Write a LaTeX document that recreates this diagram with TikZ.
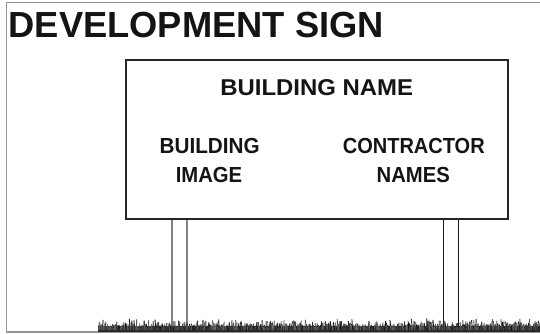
\documentclass[tikz,border=0pt]{standalone}
\usepackage{fontspec}
\setmainfont{Liberation Sans}
\usepackage{graphicx}
\begin{document}
\begin{tikzpicture}[x=1pt,y=-1pt,
  frameline/.style={draw=black!42,line width=1.3pt},
  signbox/.style={draw=black!85,line width=1.3pt,minimum width=382pt,minimum height=159pt,inner sep=0pt},
  postgray/.style={draw=black!50,line width=1.8pt},
  postblack/.style={draw=black!90,line width=1.3pt},
  lbl/.style={inner sep=0pt,anchor=base,text=black!92,font=\bfseries\fontsize{21.8}{24}\selectfont},
  grass/.style={draw=black!78,line width=0.9pt}
]
\useasboundingbox (0,0) rectangle (540,333);
% frame
\draw[frameline] (540,2.6) -- (6.6,2.6) -- (6.6,332) -- (540,332);
% title
\node[inner sep=0pt,anchor=base west,text=black!92,font=\bfseries\fontsize{36.3}{40}\selectfont] (title) at (8.5,37.7) {DEVELOPMENT SIGN};
% sign
\node[signbox] (sign) at (317,139.5) {};
\node[lbl,font=\bfseries\fontsize{22.9}{25}\selectfont] (bname) at (316.7,95.7) {\scalebox{1.045}[1]{BUILDING NAME}};
\node[lbl] (bimg1) at (209.7,153.3) {\scalebox{0.95}[1]{BUILDING}};
\node[lbl] (bimg2) at (209,182.3) {\scalebox{0.93}[1]{IMAGE}};
\node[lbl] (con1) at (413.8,153.3) {\scalebox{0.918}[1]{CONTRACTOR}};
\node[lbl] (con2) at (413.3,182.3) {\scalebox{0.93}[1]{NAMES}};
% posts
\coordinate (g1) at (171.7,330);
\coordinate (g2) at (187.3,330);
\coordinate (g3) at (443.3,330);
\coordinate (g4) at (458.3,330);
\draw[postgray] (g1 |- sign.south) -- (g1);
\draw[postgray] (g2 |- sign.south) -- (g2);
\draw[postblack] (g3 |- sign.south) -- (g3);
\draw[postblack] (g4 |- sign.south) -- (g4);
% grass
\pgfmathsetseed{7}
\fill[black!85] (98,326) rectangle (540,331.5);
\foreach \i in {0,...,900}{
  \pgfmathsetmacro\gx{98+\i*0.49+rnd*0.6}
  \pgfmathsetmacro\gh{3+9*rnd*rnd}
  \pgfmathsetmacro\gd{rnd*2.4-1.2}
  \pgfmathsetmacro\gc{55+40*rnd}
  \draw[grass,draw=black!\gc] (\gx,330) -- ++(\gd,-\gh);
}
\draw[black!85,line width=1.4pt] (98,331.6) -- (540,331.6);
\end{tikzpicture}
\end{document}
